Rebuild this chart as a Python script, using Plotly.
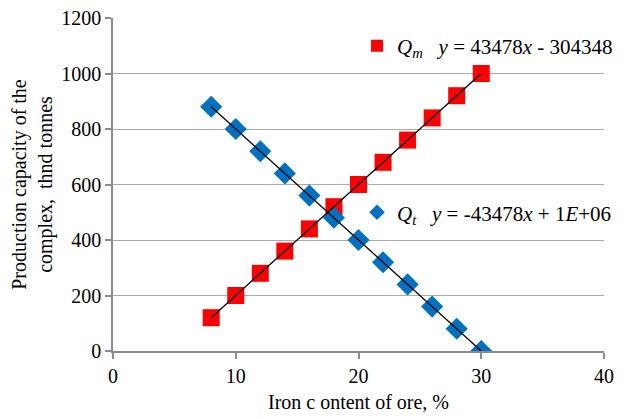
import numpy as np
import plotly.graph_objects as go

iron = [8, 10, 12, 14, 16, 18, 20, 22, 24, 26, 28, 30]
q_m = [120, 200, 280, 360, 440, 520, 600, 680, 760, 840, 920, 1000]
q_t = [880, 800, 720, 640, 560, 480, 400, 320, 240, 160, 80, 0]

label_m = "<i>Q<sub>m</sub></i>   <i>y</i> = 43478<i>x</i> - 304348"
label_t = "<i>Q<sub>t</sub></i>   <i>y</i> = -43478<i>x</i> + 1<i>E</i>+06"

FONT = "Liberation Serif"

def trend(xs, ys):
    k, b = np.polyfit(xs, ys, 1)
    xe = np.array([min(xs), max(xs)])
    return xe, k * xe + b

fig = go.Figure()
fig.add_trace(go.Scatter(x=iron, y=q_m, mode="markers", name=label_m,
                         marker=dict(symbol="square", size=17, color="#ff0000"),
                         legend="legend"))
fig.add_trace(go.Scatter(x=iron, y=q_t, mode="markers", name=label_t,
                         marker=dict(symbol="diamond", size=17, color="#0070c0"),
                         legend="legend2"))
for ys in (q_m, q_t):
    xe, ye = trend(iron, ys)
    fig.add_trace(go.Scatter(x=xe, y=ye, mode="lines", showlegend=False,
                             line=dict(color="black", width=1.3), hoverinfo="skip"))

axis_common = dict(showline=True, linecolor="#8c8c8c", linewidth=1.5,
                   ticks="outside", tickcolor="#8c8c8c", ticklen=6, tickwidth=1.5,
                   tickfont=dict(family=FONT, size=20, color="black"), zeroline=False,
                   automargin=False, ticklabeloverflow="allow")

# page body has an 8px margin, so the figure is sized/offset to compensate
fig.update_layout(
    width=631, height=411,
    margin=dict(l=105, r=35, t=10, b=68),
    plot_bgcolor="white", paper_bgcolor="white",
    font=dict(family=FONT, size=20, color="black"),
    xaxis=dict(range=[0, 40], dtick=10, showgrid=False,
               title=dict(text="Iron c ontent of ore, %", font=dict(family=FONT, size=20), standoff=9),
               **axis_common),
    yaxis=dict(range=[0, 1200], dtick=200, showgrid=True, gridcolor="#ababab", gridwidth=1.3,
               title=dict(text="Production capacity of the<br>complex,  thnd tonnes",
                          font=dict(family=FONT, size=20), standoff=4),
               **axis_common),
    legend=dict(x=0.497, y=0.977, xanchor="left", yanchor="top", bgcolor="rgba(0,0,0,0)",
                font=dict(family=FONT, size=21), itemwidth=30, tracegroupgap=0,
                itemsizing="constant"),
    legend2=dict(x=0.497, y=0.477, xanchor="left", yanchor="top", bgcolor="rgba(0,0,0,0)",
                 font=dict(family=FONT, size=21), itemwidth=30, itemsizing="constant"),
)

fig.write_html("out.html")
